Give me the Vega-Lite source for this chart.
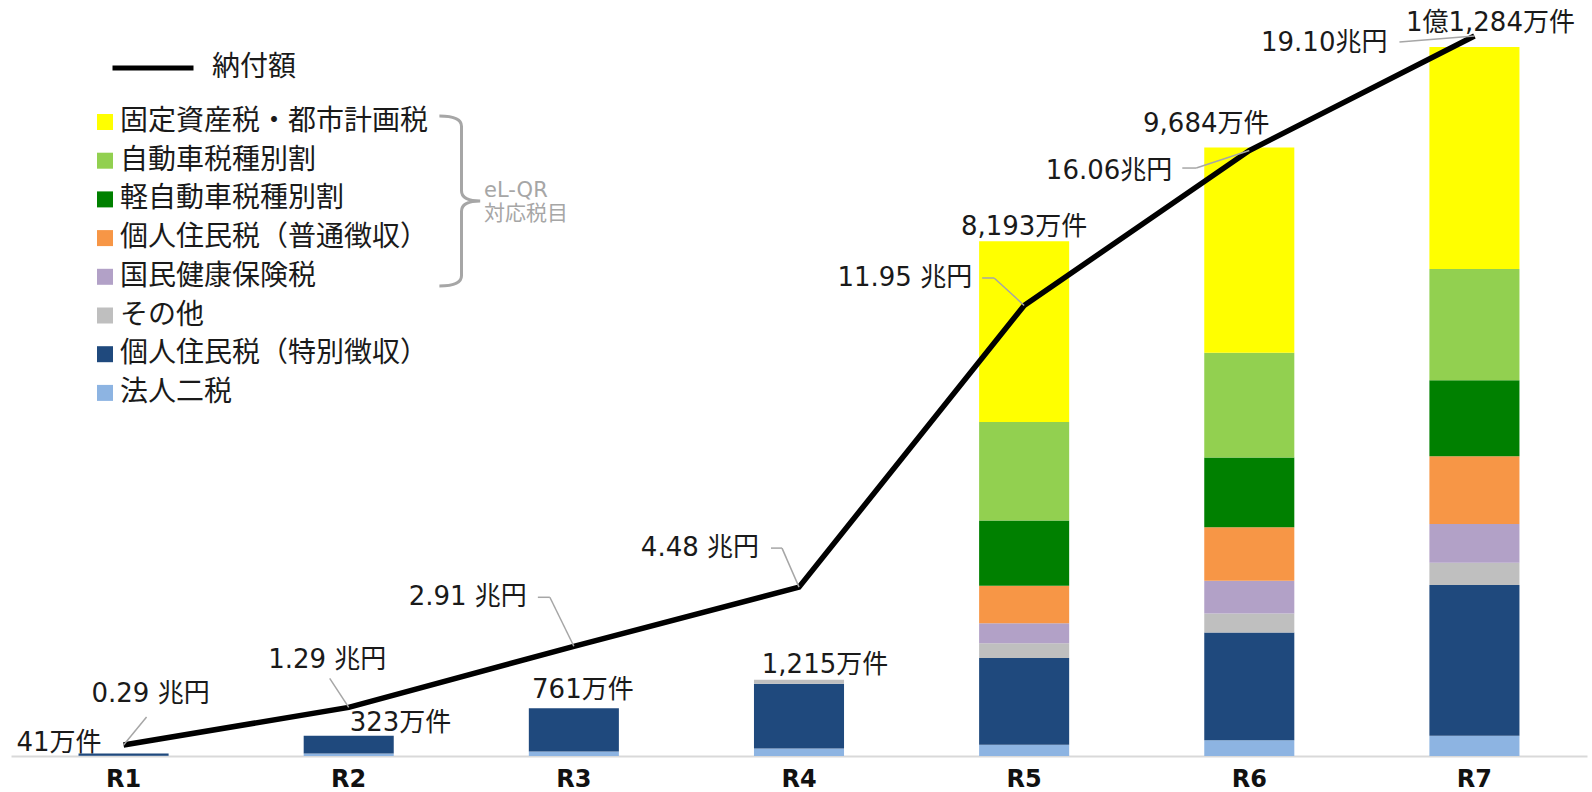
{
  "$schema": "https://vega.github.io/schema/vega-lite/v6.json",
  "width": 1576,
  "height": 754,
  "autosize": {"type": "none"},
  "padding": {"left": 11, "top": 2, "right": 5, "bottom": 36},
  "background": "white",
  "config": {
    "view": {"stroke": null},
    "scale": {"bandPaddingInner": 0.6, "bandPaddingOuter": 0.3},
    "axisX": {"title": null, "labelAngle": 0, "labelFont": "DejaVu Sans", "labelFontWeight": "bold", "labelFontSize": 24, "labelColor": "#111111", "labelPadding": 11, "ticks": false, "domainColor": "#d9d9d9", "domainWidth": 2, "grid": false},
    "text": {"font": "DejaVu Sans, Noto Sans CJK JP", "fontSize": 26, "color": "#1a1a1a", "baseline": "middle"}
  },
  "datasets": {
    "seg": [
      {"year": "R1", "tax": "法人二税", "value": 3},
      {"year": "R1", "tax": "個人住民税（特別徴収）", "value": 38},
      {"year": "R2", "tax": "法人二税", "value": 39},
      {"year": "R2", "tax": "個人住民税（特別徴収）", "value": 284},
      {"year": "R3", "tax": "法人二税", "value": 71},
      {"year": "R3", "tax": "個人住民税（特別徴収）", "value": 690},
      {"year": "R4", "tax": "法人二税", "value": 119},
      {"year": "R4", "tax": "個人住民税（特別徴収）", "value": 1031},
      {"year": "R4", "tax": "その他", "value": 65},
      {"year": "R5", "tax": "法人二税", "value": 181},
      {"year": "R5", "tax": "個人住民税（特別徴収）", "value": 1378},
      {"year": "R5", "tax": "その他", "value": 236},
      {"year": "R5", "tax": "国民健康保険税", "value": 318},
      {"year": "R5", "tax": "個人住民税（普通徴収）", "value": 598},
      {"year": "R5", "tax": "軽自動車税種別割", "value": 1038},
      {"year": "R5", "tax": "自動車税種別割", "value": 1565},
      {"year": "R5", "tax": "固定資産税・都市計画税", "value": 2879},
      {"year": "R6", "tax": "法人二税", "value": 250},
      {"year": "R6", "tax": "個人住民税（特別徴収）", "value": 1715},
      {"year": "R6", "tax": "その他", "value": 301},
      {"year": "R6", "tax": "国民健康保険税", "value": 525},
      {"year": "R6", "tax": "個人住民税（普通徴収）", "value": 851},
      {"year": "R6", "tax": "軽自動車税種別割", "value": 1107},
      {"year": "R6", "tax": "自動車税種別割", "value": 1670},
      {"year": "R6", "tax": "固定資産税・都市計画税", "value": 3265},
      {"year": "R7", "tax": "法人二税", "value": 323},
      {"year": "R7", "tax": "個人住民税（特別徴収）", "value": 2400},
      {"year": "R7", "tax": "その他", "value": 354},
      {"year": "R7", "tax": "国民健康保険税", "value": 617},
      {"year": "R7", "tax": "個人住民税（普通徴収）", "value": 1076},
      {"year": "R7", "tax": "軽自動車税種別割", "value": 1211},
      {"year": "R7", "tax": "自動車税種別割", "value": 1768},
      {"year": "R7", "tax": "固定資産税・都市計画税", "value": 3535}
    ],
    "tot": [
      {"year": "R1", "total": 41, "count_label": "41万件", "pay": 0.29, "pay_label": "0.29 兆円"},
      {"year": "R2", "total": 323, "count_label": "323万件", "pay": 1.29, "pay_label": "1.29 兆円"},
      {"year": "R3", "total": 761, "count_label": "761万件", "pay": 2.91, "pay_label": "2.91 兆円"},
      {"year": "R4", "total": 1215, "count_label": "1,215万件", "pay": 4.48, "pay_label": "4.48 兆円"},
      {"year": "R5", "total": 8193, "count_label": "8,193万件", "pay": 11.95, "pay_label": "11.95 兆円"},
      {"year": "R6", "total": 9684, "count_label": "9,684万件", "pay": 16.06, "pay_label": "16.06兆円"},
      {"year": "R7", "total": 11284, "count_label": "1億1,284万件", "pay": 19.10, "pay_label": "19.10兆円"}
    ]
  },
  "resolve": {"scale": {"y": "independent"}},
  "layer": [
    {
      "data": {"name": "seg"},
      "transform": [{"stack": "value", "groupby": ["year"], "as": ["v0", "v1"]}],
      "mark": {"type": "bar"},
      "encoding": {
        "x": {"field": "year", "type": "nominal", "title": null},
        "y": {"field": "v0", "type": "quantitative", "scale": {"domain": [0, 12000], "nice": false}, "axis": null},
        "y2": {"field": "v1"},
        "color": {
          "field": "tax", "type": "nominal",
          "scale": {
            "domain": ["固定資産税・都市計画税", "自動車税種別割", "軽自動車税種別割", "個人住民税（普通徴収）", "国民健康保険税", "その他", "個人住民税（特別徴収）", "法人二税"],
            "range": ["#FFFF00", "#92D050", "#008000", "#F79646", "#B2A1C7", "#BFBFBF", "#1F497D", "#8DB4E2"]
          },
          "legend": {"orient": "none", "legendX": 80, "legendY": 106, "title": null, "symbolType": "square", "symbolSize": 256, "symbolStrokeWidth": 0, "labelFont": "Noto Sans CJK JP", "labelFontSize": 28, "labelColor": "#1a1a1a", "labelOffset": 1, "labelLimit": 0, "rowPadding": 10.7, "padding": 0}
        }
      }
    },
    {
      "data": {"name": "tot"},
      "mark": {"type": "line", "strokeWidth": 5.5, "strokeJoin": "miter", "strokeCap": "butt"},
      "encoding": {
        "x": {"field": "year", "type": "nominal", "title": null},
        "y": {"field": "pay", "type": "quantitative", "scale": {"domain": [0, 20], "nice": false}, "axis": null},
        "stroke": {"datum": "納付額", "scale": {"range": ["#000000"]}, "legend": {"orient": "none", "legendX": 99, "legendY": 23, "title": null, "symbolType": "stroke", "symbolSize": 6561, "symbolStrokeWidth": 5, "symbolStrokeColor": "#000000", "labelFont": "Noto Sans CJK JP", "labelFontSize": 28, "labelColor": "#1a1a1a", "labelOffset": 16, "padding": 0}}
      }
    },
    {
      "data": {"name": "tot"},
      "transform": [{"filter": "datum.year === 'R7'"}],
      "mark": {"type": "point", "opacity": 0, "filled": false, "color": "#a6a6a6", "strokeWidth": 3},
      "encoding": {
        "x": {"field": "year", "type": "nominal", "title": null},
        "y": {"field": "pay", "type": "quantitative", "scale": {"domain": [0, 20], "nice": false}, "axis": null},
        "shape": {"datum": "eL-QR", "scale": {"range": ["M-0.26,-0.882Q0,-0.882 0,-0.762L0,-0.002Q0,0.118 0.22,0.118Q0,0.118 0,0.238L0,0.998Q0,1.118 -0.26,1.118"]}, "legend": {"orient": "none", "legendX": 364, "legendY": 102.5, "title": null, "symbolSize": 28900, "symbolStrokeWidth": 3, "symbolStrokeColor": "#a6a6a6", "symbolFillColor": "transparent", "symbolOpacity": 1, "labelExpr": "['eL-QR', '対応税目']", "labelFont": "DejaVu Sans, Noto Sans CJK JP", "labelFontSize": 21, "labelColor": "#a6a6a6", "labelOffset": -64, "padding": 0}}
      }
    },
    {"data": {"name": "tot"}, "transform": [{"filter": "datum.year === 'R1'"}], "mark": {"type": "text", "align": "right", "dx": -22, "dy": -10},
      "encoding": {"x": {"field": "year", "type": "nominal", "title": null}, "y": {"field": "total", "type": "quantitative", "scale": {"domain": [0, 12000], "nice": false}, "axis": null}, "text": {"field": "count_label"}}},
    {"data": {"name": "tot"}, "transform": [{"filter": "datum.year === 'R2'"}], "mark": {"type": "text", "align": "left", "dx": 1, "dy": -13},
      "encoding": {"x": {"field": "year", "type": "nominal", "title": null}, "y": {"field": "total", "type": "quantitative", "scale": {"domain": [0, 12000], "nice": false}, "axis": null}, "text": {"field": "count_label"}}},
    {"data": {"name": "tot"}, "transform": [{"filter": "datum.year === 'R3'"}], "mark": {"type": "text", "align": "center", "dx": 9, "dy": -18},
      "encoding": {"x": {"field": "year", "type": "nominal", "title": null}, "y": {"field": "total", "type": "quantitative", "scale": {"domain": [0, 12000], "nice": false}, "axis": null}, "text": {"field": "count_label"}}},
    {"data": {"name": "tot"}, "transform": [{"filter": "datum.year === 'R4'"}], "mark": {"type": "text", "align": "center", "dx": 26, "dy": -15},
      "encoding": {"x": {"field": "year", "type": "nominal", "title": null}, "y": {"field": "total", "type": "quantitative", "scale": {"domain": [0, 12000], "nice": false}, "axis": null}, "text": {"field": "count_label"}}},
    {"data": {"name": "tot"}, "transform": [{"filter": "datum.year === 'R5'"}], "mark": {"type": "text", "align": "center", "dx": 0, "dy": -14},
      "encoding": {"x": {"field": "year", "type": "nominal", "title": null}, "y": {"field": "total", "type": "quantitative", "scale": {"domain": [0, 12000], "nice": false}, "axis": null}, "text": {"field": "count_label"}}},
    {"data": {"name": "tot"}, "transform": [{"filter": "datum.year === 'R6'"}], "mark": {"type": "text", "align": "center", "dx": -43, "dy": -24},
      "encoding": {"x": {"field": "year", "type": "nominal", "title": null}, "y": {"field": "total", "type": "quantitative", "scale": {"domain": [0, 12000], "nice": false}, "axis": null}, "text": {"field": "count_label"}}},
    {"data": {"name": "tot"}, "transform": [{"filter": "datum.year === 'R7'"}], "mark": {"type": "text", "align": "center", "dx": 16, "dy": -24},
      "encoding": {"x": {"field": "year", "type": "nominal", "title": null}, "y": {"field": "total", "type": "quantitative", "scale": {"domain": [0, 12000], "nice": false}, "axis": null}, "text": {"field": "count_label"}}},
    {"data": {"name": "tot"}, "transform": [{"filter": "datum.year === 'R1'"}], "mark": {"type": "rule", "color": "#a6a6a6", "strokeWidth": 1.5, "xOffset": 0, "yOffset": 0, "x2Offset": 23, "y2Offset": -28},
      "encoding": {"x": {"field": "year", "type": "nominal", "title": null}, "x2": {"field": "year"}, "y": {"field": "pay", "type": "quantitative", "scale": {"domain": [0, 20], "nice": false}, "axis": null}, "y2": {"field": "pay"}}},
    {"data": {"name": "tot"}, "transform": [{"filter": "datum.year === 'R2'"}], "mark": {"type": "rule", "color": "#a6a6a6", "strokeWidth": 1.5, "xOffset": 0, "yOffset": 0, "x2Offset": -19, "y2Offset": -29},
      "encoding": {"x": {"field": "year", "type": "nominal", "title": null}, "x2": {"field": "year"}, "y": {"field": "pay", "type": "quantitative", "scale": {"domain": [0, 20], "nice": false}, "axis": null}, "y2": {"field": "pay"}}},
    {"data": {"name": "tot"}, "transform": [{"filter": "datum.year === 'R3'"}], "mark": {"type": "rule", "color": "#a6a6a6", "strokeWidth": 1.5, "xOffset": 0, "yOffset": 0, "x2Offset": -24, "y2Offset": -49},
      "encoding": {"x": {"field": "year", "type": "nominal", "title": null}, "x2": {"field": "year"}, "y": {"field": "pay", "type": "quantitative", "scale": {"domain": [0, 20], "nice": false}, "axis": null}, "y2": {"field": "pay"}}},
    {"data": {"name": "tot"}, "transform": [{"filter": "datum.year === 'R3'"}], "mark": {"type": "rule", "color": "#a6a6a6", "strokeWidth": 1.5, "xOffset": -24, "yOffset": -49, "x2Offset": -36, "y2Offset": -49},
      "encoding": {"x": {"field": "year", "type": "nominal", "title": null}, "x2": {"field": "year"}, "y": {"field": "pay", "type": "quantitative", "scale": {"domain": [0, 20], "nice": false}, "axis": null}, "y2": {"field": "pay"}}},
    {"data": {"name": "tot"}, "transform": [{"filter": "datum.year === 'R4'"}], "mark": {"type": "rule", "color": "#a6a6a6", "strokeWidth": 1.5, "xOffset": 0, "yOffset": 0, "x2Offset": -17, "y2Offset": -39},
      "encoding": {"x": {"field": "year", "type": "nominal", "title": null}, "x2": {"field": "year"}, "y": {"field": "pay", "type": "quantitative", "scale": {"domain": [0, 20], "nice": false}, "axis": null}, "y2": {"field": "pay"}}},
    {"data": {"name": "tot"}, "transform": [{"filter": "datum.year === 'R4'"}], "mark": {"type": "rule", "color": "#a6a6a6", "strokeWidth": 1.5, "xOffset": -17, "yOffset": -39, "x2Offset": -28, "y2Offset": -39},
      "encoding": {"x": {"field": "year", "type": "nominal", "title": null}, "x2": {"field": "year"}, "y": {"field": "pay", "type": "quantitative", "scale": {"domain": [0, 20], "nice": false}, "axis": null}, "y2": {"field": "pay"}}},
    {"data": {"name": "tot"}, "transform": [{"filter": "datum.year === 'R5'"}], "mark": {"type": "rule", "color": "#a6a6a6", "strokeWidth": 1.5, "xOffset": 0, "yOffset": 0, "x2Offset": -30, "y2Offset": -27.5},
      "encoding": {"x": {"field": "year", "type": "nominal", "title": null}, "x2": {"field": "year"}, "y": {"field": "pay", "type": "quantitative", "scale": {"domain": [0, 20], "nice": false}, "axis": null}, "y2": {"field": "pay"}}},
    {"data": {"name": "tot"}, "transform": [{"filter": "datum.year === 'R5'"}], "mark": {"type": "rule", "color": "#a6a6a6", "strokeWidth": 1.5, "xOffset": -30, "yOffset": -27.5, "x2Offset": -42, "y2Offset": -27.5},
      "encoding": {"x": {"field": "year", "type": "nominal", "title": null}, "x2": {"field": "year"}, "y": {"field": "pay", "type": "quantitative", "scale": {"domain": [0, 20], "nice": false}, "axis": null}, "y2": {"field": "pay"}}},
    {"data": {"name": "tot"}, "transform": [{"filter": "datum.year === 'R6'"}], "mark": {"type": "rule", "color": "#a6a6a6", "strokeWidth": 1.5, "xOffset": 0, "yOffset": 0, "x2Offset": -53, "y2Offset": 17.5},
      "encoding": {"x": {"field": "year", "type": "nominal", "title": null}, "x2": {"field": "year"}, "y": {"field": "pay", "type": "quantitative", "scale": {"domain": [0, 20], "nice": false}, "axis": null}, "y2": {"field": "pay"}}},
    {"data": {"name": "tot"}, "transform": [{"filter": "datum.year === 'R6'"}], "mark": {"type": "rule", "color": "#a6a6a6", "strokeWidth": 1.5, "xOffset": -53, "yOffset": 17.5, "x2Offset": -67, "y2Offset": 17.5},
      "encoding": {"x": {"field": "year", "type": "nominal", "title": null}, "x2": {"field": "year"}, "y": {"field": "pay", "type": "quantitative", "scale": {"domain": [0, 20], "nice": false}, "axis": null}, "y2": {"field": "pay"}}},
    {"data": {"name": "tot"}, "transform": [{"filter": "datum.year === 'R7'"}], "mark": {"type": "rule", "color": "#a6a6a6", "strokeWidth": 1.5, "xOffset": 0, "yOffset": 0, "x2Offset": -75, "y2Offset": 6},
      "encoding": {"x": {"field": "year", "type": "nominal", "title": null}, "x2": {"field": "year"}, "y": {"field": "pay", "type": "quantitative", "scale": {"domain": [0, 20], "nice": false}, "axis": null}, "y2": {"field": "pay"}}},
    {"data": {"name": "tot"}, "transform": [{"filter": "datum.year === 'R1'"}], "mark": {"type": "text", "align": "center", "dx": 27, "dy": -51},
      "encoding": {"x": {"field": "year", "type": "nominal", "title": null}, "y": {"field": "pay", "type": "quantitative", "scale": {"domain": [0, 20], "nice": false}, "axis": null}, "text": {"field": "pay_label"}}},
    {"data": {"name": "tot"}, "transform": [{"filter": "datum.year === 'R2'"}], "mark": {"type": "text", "align": "center", "dx": -21.5, "dy": -47},
      "encoding": {"x": {"field": "year", "type": "nominal", "title": null}, "y": {"field": "pay", "type": "quantitative", "scale": {"domain": [0, 20], "nice": false}, "axis": null}, "text": {"field": "pay_label"}}},
    {"data": {"name": "tot"}, "transform": [{"filter": "datum.year === 'R3'"}], "mark": {"type": "text", "align": "right", "dx": -47, "dy": -49},
      "encoding": {"x": {"field": "year", "type": "nominal", "title": null}, "y": {"field": "pay", "type": "quantitative", "scale": {"domain": [0, 20], "nice": false}, "axis": null}, "text": {"field": "pay_label"}}},
    {"data": {"name": "tot"}, "transform": [{"filter": "datum.year === 'R4'"}], "mark": {"type": "text", "align": "right", "dx": -40, "dy": -39},
      "encoding": {"x": {"field": "year", "type": "nominal", "title": null}, "y": {"field": "pay", "type": "quantitative", "scale": {"domain": [0, 20], "nice": false}, "axis": null}, "text": {"field": "pay_label"}}},
    {"data": {"name": "tot"}, "transform": [{"filter": "datum.year === 'R5'"}], "mark": {"type": "text", "align": "right", "dx": -52, "dy": -27},
      "encoding": {"x": {"field": "year", "type": "nominal", "title": null}, "y": {"field": "pay", "type": "quantitative", "scale": {"domain": [0, 20], "nice": false}, "axis": null}, "text": {"field": "pay_label"}}},
    {"data": {"name": "tot"}, "transform": [{"filter": "datum.year === 'R6'"}], "mark": {"type": "text", "align": "right", "dx": -77, "dy": 20},
      "encoding": {"x": {"field": "year", "type": "nominal", "title": null}, "y": {"field": "pay", "type": "quantitative", "scale": {"domain": [0, 20], "nice": false}, "axis": null}, "text": {"field": "pay_label"}}},
    {"data": {"name": "tot"}, "transform": [{"filter": "datum.year === 'R7'"}], "mark": {"type": "text", "align": "right", "dx": -87, "dy": 7},
      "encoding": {"x": {"field": "year", "type": "nominal", "title": null}, "y": {"field": "pay", "type": "quantitative", "scale": {"domain": [0, 20], "nice": false}, "axis": null}, "text": {"field": "pay_label"}}}
  ]
}
